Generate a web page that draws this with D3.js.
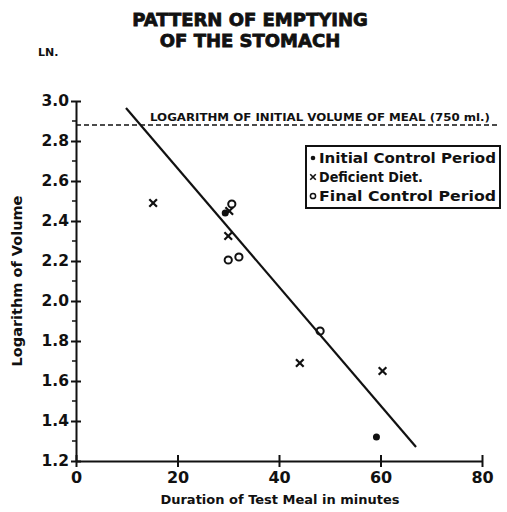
<!DOCTYPE html>
<html><head><meta charset="utf-8">
<script src="https://cdn.jsdelivr.net/npm/d3@7"></script>
<style>body{margin:0;background:#fff}svg{display:block}</style>
</head><body>
<svg id="c" width="507" height="512"></svg>
<script>
const initialX = [29.4, 59.2];
const initialY = [2.44, 1.32];
const deficientX = [15.2, 30.2, 30.0, 44.1, 60.4];
const deficientY = [2.49, 2.45, 2.325, 1.69, 1.65];
const finalX = [30.7, 30.0, 32.1, 48.1];
const finalY = [2.485, 2.205, 2.22, 1.85];
const fitX = [9.85, 67.0];
const fitY = [2.965, 1.27];
const initialVolumeLog = 2.88;
const xTicks = [0, 20, 40, 60, 80];
const yTicks = [1.2, 1.4, 1.6, 1.8, 2.0, 2.2, 2.4, 2.6, 2.8, 3.0];
const legendLabels = ["Initial Control Period", "Deficient Diet.", "Final Control Period"];

const svg = d3.select("#c");
const x = d3.scaleLinear().domain([0, 80]).range([76, 482]);
const y = d3.scaleLinear().domain([1.2, 3.0]).range([461, 101]);
const font = "'DejaVu Sans', sans-serif";
const ink = "#111";

// title
svg.append("text").attr("x", 250).attr("y", 26).attr("text-anchor", "middle")
  .attr("font-family", font).attr("font-weight", 900).attr("font-size", 18).attr("fill", ink)
  .attr("stroke", ink).attr("stroke-width", 0.8).text("PATTERN OF EMPTYING");
svg.append("text").attr("x", 250).attr("y", 47).attr("text-anchor", "middle")
  .attr("font-family", font).attr("font-weight", 900).attr("font-size", 18).attr("fill", ink)
  .attr("stroke", ink).attr("stroke-width", 0.8).text("OF THE STOMACH");
svg.append("text").attr("x", 38).attr("y", 56)
  .attr("font-family", font).attr("font-weight", 700).attr("font-size", 11).attr("fill", ink).text("LN.");

// axes
const yAxis = d3.axisLeft(y).tickValues(yTicks).tickSizeInner(5).tickSizeOuter(0).tickPadding(3)
  .tickFormat(d3.format(".1f"));
const gy = svg.append("g").attr("transform", `translate(${x(0)},0)`).call(yAxis);
gy.select(".domain").attr("stroke", ink).attr("stroke-width", 2);
gy.selectAll(".tick line").attr("stroke", ink).attr("stroke-width", 2).attr("x2", 5).attr("x1", -5);
gy.selectAll(".tick text").attr("font-family", font).attr("font-weight", 700).attr("font-size", 15.5).attr("fill", ink).attr("x", -7);
// minor ticks
const minors = d3.range(1.3, 3.0, 0.2);
svg.append("g").selectAll("line").data(minors).join("line")
  .attr("x1", x(0) - 4).attr("x2", x(0)).attr("y1", d => y(d)).attr("y2", d => y(d))
  .attr("stroke", ink).attr("stroke-width", 1.5);

const xAxis = d3.axisBottom(x).tickValues(xTicks).tickSizeInner(5).tickSizeOuter(0).tickPadding(3);
const gx = svg.append("g").attr("transform", `translate(0,${y(1.2)})`).call(xAxis);
gx.select(".domain").attr("stroke", ink).attr("stroke-width", 2);
gx.selectAll(".tick line").attr("stroke", ink).attr("stroke-width", 2).attr("y1", -6).attr("y2", 6);
gx.selectAll(".tick text").attr("font-family", font).attr("font-weight", 700).attr("font-size", 16).attr("fill", ink).attr("dy", "0.9em");

// axis titles
svg.append("text").attr("transform", `translate(22,${y(2.1)}) rotate(-90)`).attr("text-anchor", "middle")
  .attr("font-family", font).attr("font-weight", 700).attr("font-size", 14.5).attr("fill", ink).text("Logarithm of Volume");
svg.append("text").attr("x", 280).attr("y", 504).attr("text-anchor", "middle")
  .attr("font-family", font).attr("font-weight", 700).attr("font-size", 13).attr("fill", ink).text("Duration of Test Meal in minutes");

// dashed reference line
svg.append("line").attr("x1", x(0)).attr("x2", 497).attr("y1", y(initialVolumeLog)).attr("y2", y(initialVolumeLog))
  .attr("stroke", ink).attr("stroke-width", 1.5).attr("stroke-dasharray", "5,3");
svg.append("text").attr("x", 150).attr("y", y(initialVolumeLog) - 4)
  .attr("font-family", font).attr("font-weight", 700).attr("font-size", 10.5).attr("fill", ink)
  .attr("textLength", 340).attr("lengthAdjust", "spacingAndGlyphs")
  .text("LOGARITHM OF INITIAL VOLUME OF MEAL (750 ml.)");

// fitted line
svg.append("line").attr("x1", x(fitX[0])).attr("y1", y(fitY[0])).attr("x2", x(fitX[1])).attr("y2", y(fitY[1]))
  .attr("stroke", ink).attr("stroke-width", 2.2);

// points
svg.append("g").selectAll("circle").data(initialX).join("circle")
  .attr("cx", d => x(d)).attr("cy", (d, i) => y(initialY[i])).attr("r", 3.5).attr("fill", ink);
svg.append("g").selectAll("circle").data(finalX).join("circle")
  .attr("cx", d => x(d)).attr("cy", (d, i) => y(finalY[i])).attr("r", 3.6).attr("fill", "none")
  .attr("stroke", ink).attr("stroke-width", 2);
svg.append("g").selectAll("path").data(deficientX).join("path")
  .attr("transform", (d, i) => `translate(${x(d)},${y(deficientY[i])})`)
  .attr("d", d3.symbol().type(d3.symbolX).size(40)())
  .attr("fill", "none").attr("stroke", ink).attr("stroke-width", 2.2);

// legend
const lg = svg.append("g");
lg.append("rect").attr("x", 306).attr("y", 146).attr("width", 194).attr("height", 62)
  .attr("fill", "#fff").attr("stroke", ink).attr("stroke-width", 2);
const ly = [163, 182, 201];
lg.append("circle").attr("cx", 313).attr("cy", ly[0] - 5).attr("r", 2.3).attr("fill", ink);
lg.append("path").attr("transform", `translate(313,${ly[1] - 5})`).attr("d", d3.symbol().type(d3.symbolX).size(22)())
  .attr("fill", "none").attr("stroke", ink).attr("stroke-width", 1.6);
lg.append("circle").attr("cx", 313).attr("cy", ly[2] - 5).attr("r", 2.6).attr("fill", "none").attr("stroke", ink).attr("stroke-width", 1.5);
lg.selectAll("text.l").data(legendLabels).join("text").attr("class", "l")
  .attr("x", 319).attr("y", (d, i) => ly[i])
  .attr("font-family", font).attr("font-weight", 700).attr("font-size", 13.5).attr("fill", ink)
  .attr("textLength", (d, i) => i === 1 ? 104 : 177).attr("lengthAdjust", "spacingAndGlyphs")
  .text(d => d);
</script>
</body></html>
